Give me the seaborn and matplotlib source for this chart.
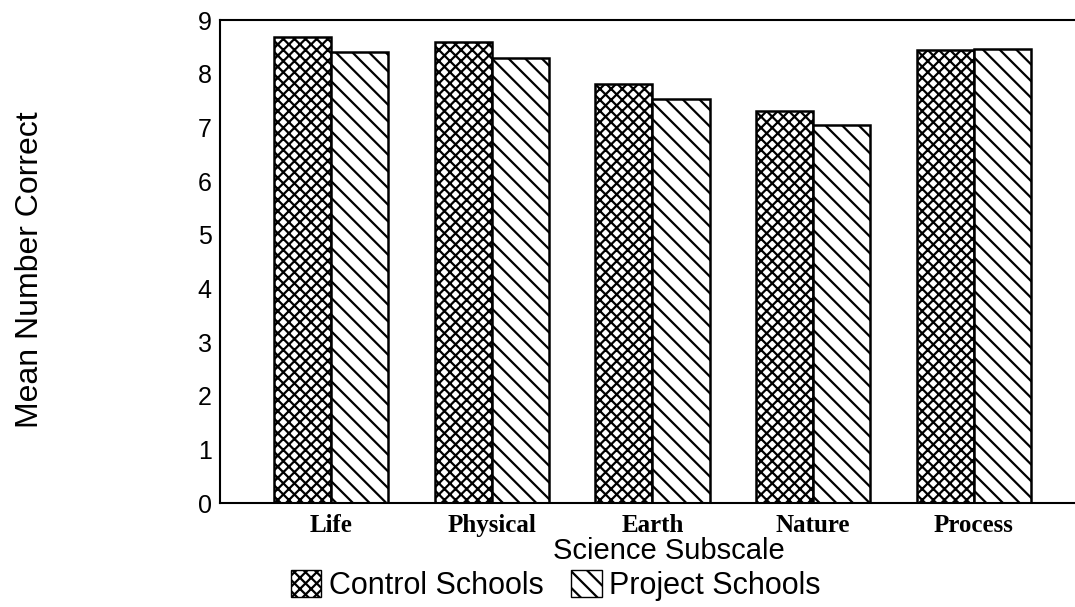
import pandas as pd
import numpy as np
import matplotlib
matplotlib.use("Agg")
import matplotlib.pyplot as plt
import seaborn as sns
from matplotlib.patches import Patch

# Values
subscales = ["Life", "Physical", "Earth", "Nature", "Process"]
control = [8.69, 8.60, 7.81, 7.30, 8.44]
project = [8.41, 8.30, 7.52, 7.04, 8.46]
groups = ["Control Schools", "Project Schools"]

df = pd.DataFrame({
    "Subscale": subscales * 2,
    "Score": control + project,
    "School": [groups[0]] * len(subscales) + [groups[1]] * len(subscales),
})

sns.set_style("white")
plt.rcParams["hatch.linewidth"] = 1.6
plt.rcParams["hatch.color"] = "black"
plt.rcParams["text.color"] = "black"
plt.rcParams["axes.labelcolor"] = "black"
plt.rcParams["xtick.color"] = "black"
plt.rcParams["ytick.color"] = "black"

fig = plt.figure(figsize=(10.75, 6.07), dpi=100)
ax = fig.add_axes([0.2047, 0.171, 0.80, 0.796])

sns.barplot(data=df, x="Subscale", y="Score", hue="School", order=subscales,
            hue_order=groups, width=0.71, gap=0,
            palette=["white", "white"], edgecolor="black", linewidth=1.8,
            legend=False, ax=ax)

# hatch patterns: cross-hatch for control, diagonal lines for project
hatches = {groups[0]: "xxx", groups[1]: "\\\\"}
for cont, g in zip(ax.containers, groups):
    for bar in cont:
        bar.set_hatch(hatches[g])
        bar.set_edgecolor("black")

ax.set_ylim(0, 9)
ax.set_xlim(-0.69, 4.66)
ax.set_yticks(range(10))
ax.tick_params(axis="y", direction="in", length=8, width=1.2, labelsize=18,
               pad=6, labelcolor="black")
ax.tick_params(axis="x", length=0, pad=8)
for lab in ax.get_yticklabels():
    lab.set_family("Liberation Sans")
for lab in ax.get_xticklabels():
    lab.set_family("Liberation Serif")
    lab.set_fontsize(18)
    lab.set_fontweight("bold")
    lab.set_color("black")

for s in ["left", "bottom", "top"]:
    ax.spines[s].set_linewidth(1.5)
    ax.spines[s].set_color("black")
ax.spines["right"].set_visible(False)

ax.set_xlabel("")
ax.set_ylabel("")
fig.text(0.622, 0.092, "Science Subscale", ha="center", va="center",
         family="Liberation Sans", fontsize=21, color="black")
fig.text(0.028, 0.555, "Mean Number Correct", rotation=90, ha="center",
         va="center", family="Liberation Sans", fontsize=23, color="black")

handles = [Patch(facecolor="white", edgecolor="black", hatch=hatches[g],
                 label=g) for g in groups]
fig.legend(handles=handles, loc="center", bbox_to_anchor=(0.517, 0.036),
           ncol=2, frameon=False, handlelength=1.0, handleheight=1.0,
           handletextpad=0.25, columnspacing=0.9, borderpad=0,
           labelcolor="black",
           prop={"family": "Liberation Sans", "size": 22})

fig.savefig("out.png", dpi=100)
